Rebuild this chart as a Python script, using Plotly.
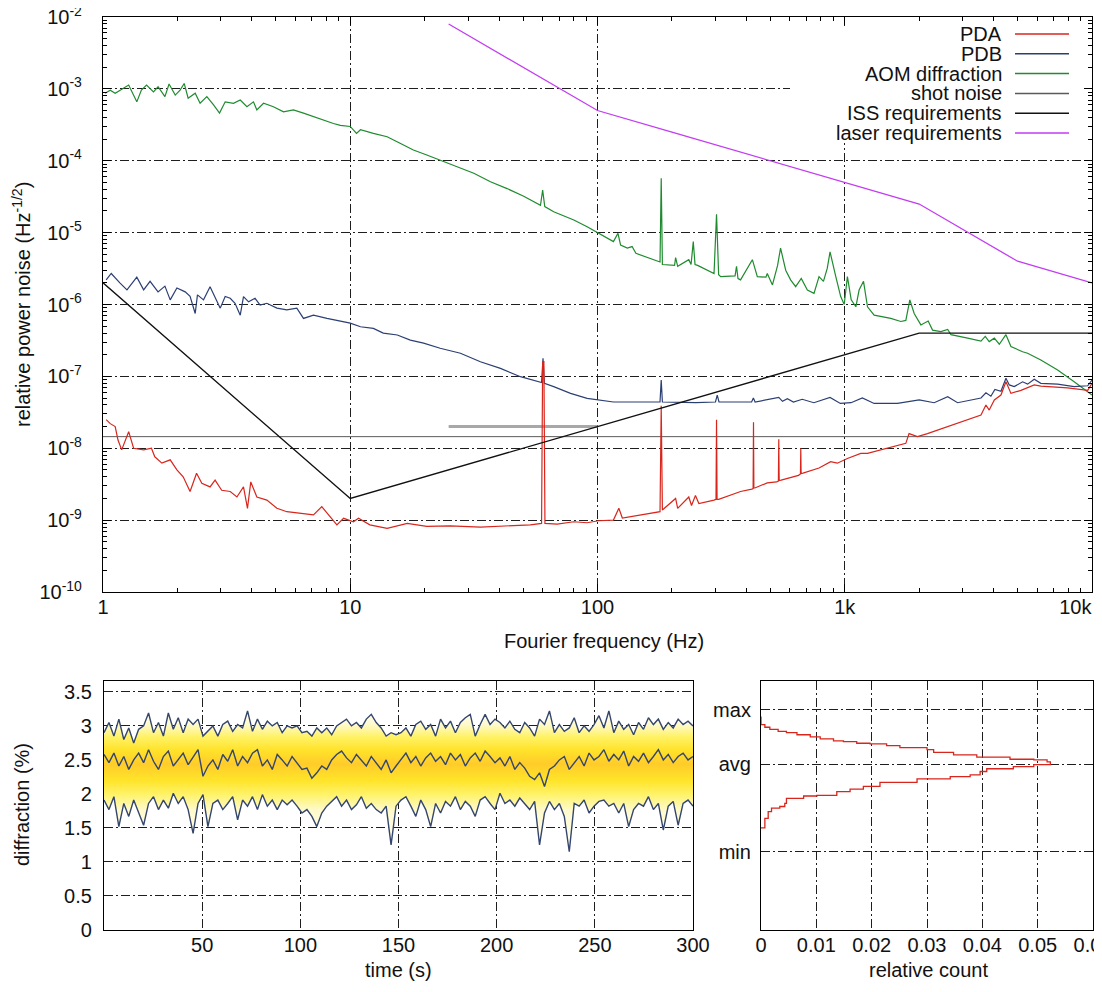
import plotly.graph_objects as go

# The page adds an 8 px body margin, so the figure is 8 px smaller than the window
OFF = 8
W, H = 1102 - OFF, 992 - OFF

# ---------------- top panel: relative power noise spectra ----------------
pda_freq = [1.03,1.07,1.12,1.15,1.19,1.27,1.33,1.46,1.57,1.62, 1.73,1.87,1.99,2.11,2.25,2.39,2.51,2.71,2.84,3.02,
            3.27,3.48,3.70,3.84,3.96,4.19,4.60,5.05,5.54,6.28, 7.10,7.67,8.30,8.83,9.40,10.3,10.8,12.0,14.1,17.0,
            20.4,25.4,33.6,43.1,53.5,59.4,60.0,60.7,61.3,68.7, 80.2,90.8,101,116,122,126,149,179,181,183,
            207,211,234,240,249,257,296,301.5,303,304.5,309,379, 421,426,427.5,429,433,486,530,539,541,543,553,650,662,664,666,678,
            787,877,933,1025,1161,1236,1489,1766,1820,1968, 2160,2608,3140,3556,3724,3840,4027,4283,4487,4700,
            5160,5840,6210,7960,9610,10000]
pda_val = [2.5e-8,2.2e-8,2.0e-8,1.3e-8,9.5e-9,1.7e-8,1.0e-8,9.5e-9,1.0e-8,7.6e-9, 6.2e-9,6.9e-9,5.0e-9,4.0e-9,2.5e-9,4.5e-9,3.25e-9,2.9e-9,3.6e-9,2.6e-9,
           2.5e-9,2.1e-9,2.9e-9,1.46e-9,3.4e-9,2.1e-9,1.9e-9,1.46e-9,1.31e-9,1.24e-9, 1.18e-9,1.54e-9,1.12e-9,8.6e-10,1.06e-9,9.5e-10,1.06e-9,8.6e-10,7.7e-10,9.0e-10,
           8.2e-10,8.3e-10,8.0e-10,8.3e-10,8.6e-10,9.0e-10,1.6e-7,1.6e-7,9.0e-10,8.8e-10, 9.5e-10,9.2e-10,9.8e-10,1.0e-9,1.46e-9,1.07e-9,1.17e-9,1.31e-9,3.9e-8,1.38e-9,
           2.0e-9,1.46e-9,2.1e-9,1.6e-9,2.2e-9,1.7e-9,1.9e-9,1.95e-9,2.5e-8,1.95e-9,1.95e-9,2.5e-9, 2.7e-9,2.75e-9,2.3e-8,2.8e-9,2.8e-9,3.3e-9,3.4e-9,3.5e-9,1.33e-8,3.55e-9,3.6e-9,4.2e-9,4.4e-9,1.0e-8,4.45e-9,4.5e-9,
           5.3e-9,6.5e-9,6.2e-9,7.2e-9,8.5e-9,8.5e-9,1.0e-8,1.17e-8,1.6e-8,1.45e-8, 1.6e-8,2.0e-8,2.5e-8,2.9e-8,4.0e-8,3.4e-8,4.7e-8,5.5e-8,8.4e-8,5.8e-8,
           6.4e-8,7.6e-8,7.3e-8,6.9e-8,6.4e-8,8.0e-8]

pdb_freq = [1.03,1.08,1.17,1.25,1.37,1.46,1.55,1.67,1.78,1.87, 1.99,2.15,2.25,2.36,2.41,2.55,2.71,2.84,2.98,3.12,
            3.27,3.42,3.59,3.70,3.88,4.12,4.32,4.60,5.05,5.54, 6.08,6.47,7.10,8.05,9.12,10.0,11.0,12.4,13.6,15.5,
            17.5,19.8,23.1,27.9,33.6,40.5,48.8,57.0,59.4,60.2, 61.0,66.5,77.8,90.8,101,116,140,179,181,183,
            250,300,305,310,420,427,434,541,560,586, 620,673,750,872,960,1060,1178,1315,1634,2000,
            2300,2608,2860,3556,3724,3900,4048,4283,4487,4627, 4846,5240,5490,5840,6210,7260,8470,9610,10000]
pdb_val = [2.2e-6,2.7e-6,2.0e-6,1.6e-6,2.4e-6,1.6e-6,2.1e-6,1.5e-6,1.8e-6,1.16e-6, 1.7e-6,1.5e-6,1.3e-6,7.5e-7,1.36e-6,1.16e-6,1.77e-6,1.29e-6,8.9e-7,1.29e-6,
           1.22e-6,1.04e-6,7.1e-7,1.29e-6,1.09e-6,1.22e-6,9.8e-7,1.04e-6,8.9e-7,8.4e-7, 8.9e-7,6.4e-7,7.1e-7,6.4e-7,5.9e-7,5.5e-7,4.9e-7,4.65e-7,4.0e-7,3.76e-7,
           3.2e-7,2.9e-7,2.46e-7,2.1e-7,1.6e-7,1.29e-7,9.9e-8,8.4e-8,8.2e-8,1.78e-7, 8.0e-8,7.2e-8,5.8e-8,4.95e-8,4.7e-8,4.4e-8,4.4e-8,4.4e-8,8.9e-8,4.4e-8,
           4.3e-8,4.4e-8,5.5e-8,4.4e-8,4.4e-8,5.0e-8,4.4e-8,5.1e-8,4.5e-8,4.9e-8, 4.4e-8,4.8e-8,4.3e-8,5.1e-8,4.2e-8,4.3e-8,5.0e-8,4.2e-8,4.2e-8,4.7e-8,
           4.3e-8,5.2e-8,4.3e-8,5.0e-8,5.9e-8,5.3e-8,6.6e-8,6.2e-8,9.4e-8,7.6e-8, 7.2e-8,8.4e-8,7.8e-8,9.1e-8,8.0e-8,7.8e-8,7.2e-8,7.4e-8,8.9e-8]

aom_freq = [1.02,1.07,1.12,1.19,1.27,1.37,1.43,1.50,1.60,1.67, 1.78,1.85,1.96,2.05,2.13,2.21,2.36,2.47,2.63,2.80,
            2.96,3.12,3.37,3.59,3.82,4.06,4.19,4.46,4.89,5.37, 5.89,6.47,7.10,7.80,8.55,9.12,10.0,10.6,11.0,12.4,
            14.1,15.9,18.0,20.4,23.1,27.0,31.6,36.9,43.1,50.3, 58.8,60.0,61.2,66.5,80.2,90.8,101,116,121,124,
            132,138,143,149,179,181,183,205,207,211, 234,239,244,248,254,296,303,309,315,360,
            365,370,379,423,443,480,486,510,535,550, 577,604,633,667,706,751,787,820,850,872,
            900,920,963,995,1025,1062,1109,1143,1191,1236, 1315,1400,1535,1686,1766,1833,1909,2032,2175,2265,
            2448,2608,2690,3140,3556,3700,3840,4027,4217,4487, 4700,5240,5490,6210,7260,8470,10000]
aom_val = [8.7e-4,9.6e-4,8.7e-4,1.0e-3,1.13e-3,6.6e-4,9.6e-4,1.13e-3,9.1e-4,1.07e-3, 7.8e-4,1.17e-3,8.2e-4,9.6e-4,1.19e-3,7.4e-4,8.7e-4,6.3e-4,7.8e-4,6.0e-4,
           4.6e-4,6.6e-4,6.3e-4,7.0e-4,5.65e-4,6.6e-4,5.1e-4,6.3e-4,5.65e-4,4.8e-4, 5.1e-4,4.6e-4,4.1e-4,3.7e-4,3.3e-4,3.1e-4,3.0e-4,2.4e-4,2.7e-4,2.4e-4,
           2.16e-4,1.75e-4,1.41e-4,1.2e-4,1.02e-4,8.3e-5,6.7e-5,5.1e-5,4.1e-5,3.2e-5, 2.4e-5,3.9e-5,2.3e-5,1.95e-5,1.5e-5,1.21e-5,9.8e-6,7.5e-6,9.8e-6,6.7e-6,
           6.1e-6,6.4e-6,5.15e-6,4.9e-6,3.9e-6,5.7e-5,3.6e-6,3.5e-6,4.5e-6,3.4e-6, 4.2e-6,3.6e-6,7.5e-6,3.6e-6,3.5e-6,2.7e-6,1.8e-5,2.6e-6,2.44e-6,2.5e-6,
           3.4e-6,2.3e-6,2.2e-6,4.2e-6,2.44e-6,2.4e-6,2.7e-6,1.87e-6,3.5e-6,6.1e-6, 3.0e-6,2.2e-6,1.77e-6,2.3e-6,1.59e-6,1.43e-6,2.44e-6,2.1e-6,3.2e-6,5.4e-6,
           3.2e-6,2.44e-6,1.29e-6,1.0e-6,2.44e-6,1.16e-6,9.3e-7,1.59e-6,2.1e-6,9.3e-7, 7.1e-7,6.8e-7,6.4e-7,5.8e-7,6.0e-7,1.16e-6,7.5e-7,5.2e-7,5.9e-7,4.4e-7,
           4.2e-7,4.5e-7,3.8e-7,3.4e-7,3.1e-7,3.6e-7,3.05e-7,3.4e-7,2.8e-7,3.8e-7, 2.6e-7,2.2e-7,2.1e-7,1.69e-7,1.23e-7,8.4e-8,5.5e-8]

shot_freq = [1, 10000]
shot_val = [1.45e-8, 1.45e-8]
shot2_freq = [25, 100]
shot2_val = [2.0e-8, 2.0e-8]

iss_freq = [1, 10, 2000, 10000]
iss_val = [2.0e-6, 2.0e-9, 4.0e-7, 4.0e-7]

laser_freq = [25, 50, 100, 200, 500, 1000, 2000, 5000, 10000]
laser_val = [8.0e-3, 2.0e-3, 5.0e-4, 2.5e-4, 1.0e-4, 5.0e-5, 2.5e-5, 4.0e-6, 2.0e-6]

x_major = [1, 10, 100, 1000, 10000]
x_major_text = ["1", "10", "100", "1k", "10k" + "&nbsp;" * 6]
y_major = [1e-10, 1e-9, 1e-8, 1e-7, 1e-6, 1e-5, 1e-4, 1e-3, 1e-2]
y_major_text = ["10<sup>-10</sup>", "10<sup>-9</sup>", "10<sup>-8</sup>", "10<sup>-7</sup>", "10<sup>-6</sup>",
                "10<sup>-5</sup>", "10<sup>-4</sup>", "10<sup>-3</sup>", "10<sup>-2</sup>"]

# ---------------- bottom left: diffraction time series ----------------
time_s = [k * 300 / 119 for k in range(120)]
upper_pct = [2.90,3.05,2.85,3.10,2.80,2.97,2.75,2.95,3.00,3.19, 2.90,3.05,2.85,3.19,2.95,3.12,2.90,3.10,3.02,3.10,
             2.85,2.92,3.00,2.85,3.02,3.07,2.92,3.02,2.97,3.22, 2.92,3.10,2.95,3.07,3.00,3.05,2.90,3.00,2.97,3.00,
             2.90,2.92,2.85,2.97,2.90,2.97,2.87,3.00,3.05,3.10, 3.00,3.05,2.97,3.10,3.17,3.05,2.97,2.85,2.90,2.87,
             2.90,2.97,2.85,3.02,3.07,2.95,3.02,2.85,3.10,2.97, 3.07,2.90,3.05,3.12,3.17,2.85,3.02,3.17,3.02,3.10,
             3.05,2.97,3.07,2.95,2.90,3.05,2.97,2.85,3.10,3.02, 3.22,2.90,3.02,2.92,2.97,3.12,2.90,3.00,2.92,3.02,
             3.15,2.97,3.22,2.90,3.07,2.95,3.02,2.87,3.05,2.95, 3.12,3.02,3.10,2.95,3.05,2.97,3.10,3.02,3.07,3.00]
middle_pct = [2.58,2.46,2.60,2.41,2.55,2.36,2.50,2.60,2.46,2.65, 2.48,2.36,2.55,2.63,2.41,2.50,2.60,2.43,2.55,2.65,
              2.26,2.41,2.50,2.36,2.58,2.48,2.65,2.41,2.55,2.46, 2.60,2.65,2.41,2.50,2.36,2.58,2.50,2.41,2.55,2.46,
              2.36,2.38,2.23,2.31,2.41,2.36,2.50,2.58,2.63,2.53, 2.46,2.58,2.50,2.41,2.55,2.46,2.36,2.50,2.31,2.41,
              2.50,2.60,2.46,2.55,2.41,2.53,2.60,2.48,2.55,2.43, 2.60,2.50,2.58,2.41,2.53,2.60,2.48,2.63,2.55,2.46,
              2.53,2.41,2.55,2.36,2.46,2.38,2.26,2.21,2.31,2.11, 2.36,2.41,2.50,2.55,2.36,2.46,2.55,2.41,2.60,2.50,
              2.55,2.65,2.48,2.58,2.50,2.63,2.41,2.55,2.48,2.60, 2.46,2.55,2.65,2.50,2.58,2.46,2.55,2.60,2.50,2.55]
lower_pct = [1.91,1.77,1.96,1.52,1.86,1.67,1.91,1.72,1.54,1.86, 1.96,1.77,1.91,1.79,2.01,1.86,1.96,1.77,1.42,1.86,
             1.99,1.52,1.86,1.91,1.77,1.86,1.96,1.62,1.91,1.82, 1.96,1.77,1.99,1.82,1.91,1.77,1.91,1.84,1.91,1.82,
             1.72,1.77,1.67,1.52,1.72,1.82,1.89,1.96,1.82,1.91, 1.77,1.84,1.96,1.79,1.86,1.77,1.72,1.82,1.25,1.82,
             1.91,1.96,1.82,1.67,1.91,1.77,1.52,1.86,1.72,1.89, 1.82,1.96,1.77,1.89,1.82,1.67,1.91,1.96,1.86,1.77,
             2.01,1.86,1.91,1.82,1.94,1.86,1.77,1.89,1.25,1.72, 1.89,1.77,1.86,1.67,1.15,1.86,1.82,1.91,1.72,1.82,
             1.89,1.91,1.82,1.86,1.72,1.86,1.52,1.77,1.86,1.82, 1.96,1.77,1.86,1.47,1.82,1.89,1.54,1.86,1.91,1.82]

# ---------------- bottom right: histogram ----------------
hist_level = [3.14,3.02,2.98,2.95,2.92,2.90,2.87,2.84,2.81,2.78,2.77,2.745,2.735,2.71,2.68,2.65,2.61,2.575,2.54,2.51,
              2.50,2.47,2.43,2.40,2.37,2.33,2.28,2.255,2.22,2.17,2.11,2.07,2.035,1.98,1.97,1.935,1.86,1.815,1.79,1.74,
              1.64,1.50]
hist_count = [0.0,0.0007,0.0016,0.0031,0.0046,0.0065,0.0089,0.0107,0.0131,0.0149,0.0173,0.0197,0.0227,0.0251,0.0300,
              0.0312,0.0348,0.0390,0.0450,0.0493,0.0517,0.0523,0.0493,0.0456,0.0408,0.0396,0.0378,0.0342,0.0282,0.0215,
              0.0185,0.0161,0.0137,0.0101,0.0077,0.0046,0.0043,0.0034,0.0019,0.0013,0.0007,0.0]
level_marks = [1.147, 2.44, 3.235]
level_text = ["min", "avg", "max"]

# ---------------- colours ----------------
C_PDA = "#d8261c"
C_PDB = "#2b3f73"
C_AOM = "#1f8b2f"
C_SHOT = "#5a5a5a"
C_ISS = "#111111"
C_LASER = "#c23cf2"
C_TS = "#34466e"

FONT = "Liberation Sans, Arial, Helvetica, sans-serif"
FS = 20
GRID_DASH = "9px,3px,2px,3px"


def px(x):
    """reference window x-pixel -> paper fraction"""
    return (x - OFF) / W


def py(y):
    """reference window y-pixel -> paper fraction"""
    return 1 - (y - OFF) / H


fig = go.Figure()

# top panel traces
fig.add_trace(go.Scatter(x=shot2_freq, y=shot2_val, mode="lines", line=dict(color="#a8a8a8", width=3),
                         xaxis="x", yaxis="y", hoverinfo="skip"))
fig.add_trace(go.Scatter(x=shot_freq, y=shot_val, mode="lines", line=dict(color=C_SHOT, width=1),
                         xaxis="x", yaxis="y", name="shot noise"))
fig.add_trace(go.Scatter(x=aom_freq, y=aom_val, mode="lines", line=dict(color=C_AOM, width=1.2),
                         xaxis="x", yaxis="y", name="AOM diffraction"))
fig.add_trace(go.Scatter(x=pdb_freq, y=pdb_val, mode="lines", line=dict(color=C_PDB, width=1.2),
                         xaxis="x", yaxis="y", name="PDB"))
fig.add_trace(go.Scatter(x=pda_freq, y=pda_val, mode="lines", line=dict(color=C_PDA, width=1.2),
                         xaxis="x", yaxis="y", name="PDA"))
fig.add_trace(go.Scatter(x=iss_freq, y=iss_val, mode="lines", line=dict(color=C_ISS, width=1.3),
                         xaxis="x", yaxis="y", name="ISS requirements"))
fig.add_trace(go.Scatter(x=laser_freq, y=laser_val, mode="lines", line=dict(color=C_LASER, width=1.3),
                         xaxis="x", yaxis="y", name="laser requirements"))

# bottom-left: density band between envelopes + three lines
fig.add_trace(go.Scatter(x=time_s, y=lower_pct, mode="lines", line=dict(width=0, color="rgba(0,0,0,0)"),
                         xaxis="x2", yaxis="y2", hoverinfo="skip"))
fig.add_trace(go.Scatter(x=time_s, y=upper_pct, mode="lines", line=dict(width=0, color="rgba(0,0,0,0)"),
                         fill="tonexty",
                         fillgradient=dict(type="vertical", start=1.2, stop=3.2,
                                           colorscale=[[0.0, "#fffef5"], [0.28, "#fffacc"], [0.40, "#fff266"],
                                                       [0.50, "#ffe42a"], [0.62, "#ffcc2a"], [0.72, "#ffe22a"],
                                                       [0.82, "#fff266"], [0.91, "#fffacc"], [1.0, "#fffef5"]]),
                         xaxis="x2", yaxis="y2", hoverinfo="skip"))
for series in (upper_pct, middle_pct, lower_pct):
    fig.add_trace(go.Scatter(x=time_s, y=series, mode="lines", line=dict(color=C_TS, width=1.4),
                             xaxis="x2", yaxis="y2"))

# bottom-right histogram
fig.add_trace(go.Scatter(x=hist_count, y=hist_level, mode="lines", line=dict(color=C_PDA, width=1.3, shape="vh"),
                         xaxis="x3", yaxis="y3"))

axis_common = dict(showline=True, linecolor="black", linewidth=1.2, zeroline=False, automargin=False,
                   showgrid=True, gridcolor="#1e1e1e", gridwidth=1, griddash=GRID_DASH,
                   ticklabeloverflow="allow",
                   tickfont=dict(family=FONT, size=FS, color="#111"))

x_minor = [m * 10 ** e for e in range(4) for m in range(2, 10)]
y_minor = [m * 10.0 ** e for e in range(-10, -2) for m in range(2, 10)]

fig.update_layout(
    template="none",
    width=W, height=H, margin=dict(l=0, r=0, t=0, b=0, pad=0), autosize=False,
    paper_bgcolor="white", plot_bgcolor="white", showlegend=False,
    font=dict(family=FONT, size=FS, color="#111"),
    xaxis=dict(axis_common, type="log", domain=[px(103), px(1092)], range=[0, 4], anchor="y",
               tickvals=x_major, ticktext=x_major_text, mirror="allticks", ticks="inside", ticklen=8,
               tickcolor="black", ticklabelstandoff=-3,
               minor=dict(tickvals=x_minor, ticks="inside", ticklen=4, tickcolor="black", showgrid=False)),
    yaxis=dict(axis_common, type="log", domain=[py(592), py(17)], range=[-10, -2], anchor="x",
               tickvals=y_major, ticktext=y_major_text, mirror="allticks", ticks="inside", ticklen=8,
               tickcolor="black", ticklabelstandoff=16,
               minor=dict(tickvals=y_minor, ticks="inside", ticklen=4, tickcolor="black", showgrid=False)),
    xaxis2=dict(axis_common, domain=[px(104), px(693)], range=[0, 300], anchor="y2", mirror=True,
                tickvals=[50, 100, 150, 200, 250, 300], ticks="", ticklabelstandoff=-3),
    yaxis2=dict(axis_common, domain=[py(930), py(681)], range=[0, 3.66], anchor="x2", mirror=True,
                tickvals=[0, 0.5, 1, 1.5, 2, 2.5, 3, 3.5], ticktext=["0", "0.5", "1", "1.5", "2", "2.5", "3", "3.5"],
                ticks="", ticklabelstandoff=7),
    xaxis3=dict(axis_common, domain=[px(761), px(1093)], range=[0, 0.06], anchor="y3", mirror=True,
                tickvals=[0, 0.01, 0.02, 0.03, 0.04, 0.05, 0.06],
                ticktext=["0", "0.01", "0.02", "0.03", "0.04", "0.05", "0.06"], ticks="", ticklabelstandoff=-3),
    yaxis3=dict(axis_common, domain=[py(930), py(681)], range=[0, 3.66], anchor="x3", mirror=True,
                tickvals=level_marks, ticktext=level_text, ticks="", ticklabelstandoff=5),
)

# axis titles
ann = []
ann.append(dict(x=px(22), y=py(305), text="relative power noise (Hz<sup>-1/2</sup>)", textangle=-90))
ann.append(dict(x=px(604), y=py(641), text="Fourier frequency (Hz)"))
ann.append(dict(x=px(22), y=py(805), text="diffraction (%)", textangle=-90))
ann.append(dict(x=px(398), y=py(970), text="time (s)"))
ann.append(dict(x=px(928), y=py(970), text="relative count"))
for a in ann:
    a.update(xref="paper", yref="paper", showarrow=False, xanchor="center", yanchor="middle",
             font=dict(family=FONT, size=FS, color="#111"))
    fig.add_annotation(**a)

# manual gnuplot-style legend (text left of sample line) on a white key box
legend_items = [("PDA", C_PDA), ("PDB", C_PDB), ("AOM diffraction", C_AOM),
                ("shot noise", C_SHOT), ("ISS requirements", C_ISS), ("laser requirements", C_LASER)]
fig.add_shape(type="rect", xref="paper", yref="paper", x0=px(790), x1=px(1082), y0=py(143), y1=py(27),
              fillcolor="white", line=dict(width=0), layer="above")
for i, (label, col) in enumerate(legend_items):
    yy = 34 + i * 19.8
    fig.add_annotation(xref="paper", yref="paper", x=px(1004), y=py(yy), text=label, showarrow=False,
                       xanchor="right", yanchor="middle", font=dict(family=FONT, size=FS, color="#111"))
    fig.add_shape(type="line", xref="paper", yref="paper", x0=px(1015), x1=px(1069), y0=py(yy), y1=py(yy),
                  line=dict(color=col, width=1.5), layer="above")

fig.write_html("out.html")
